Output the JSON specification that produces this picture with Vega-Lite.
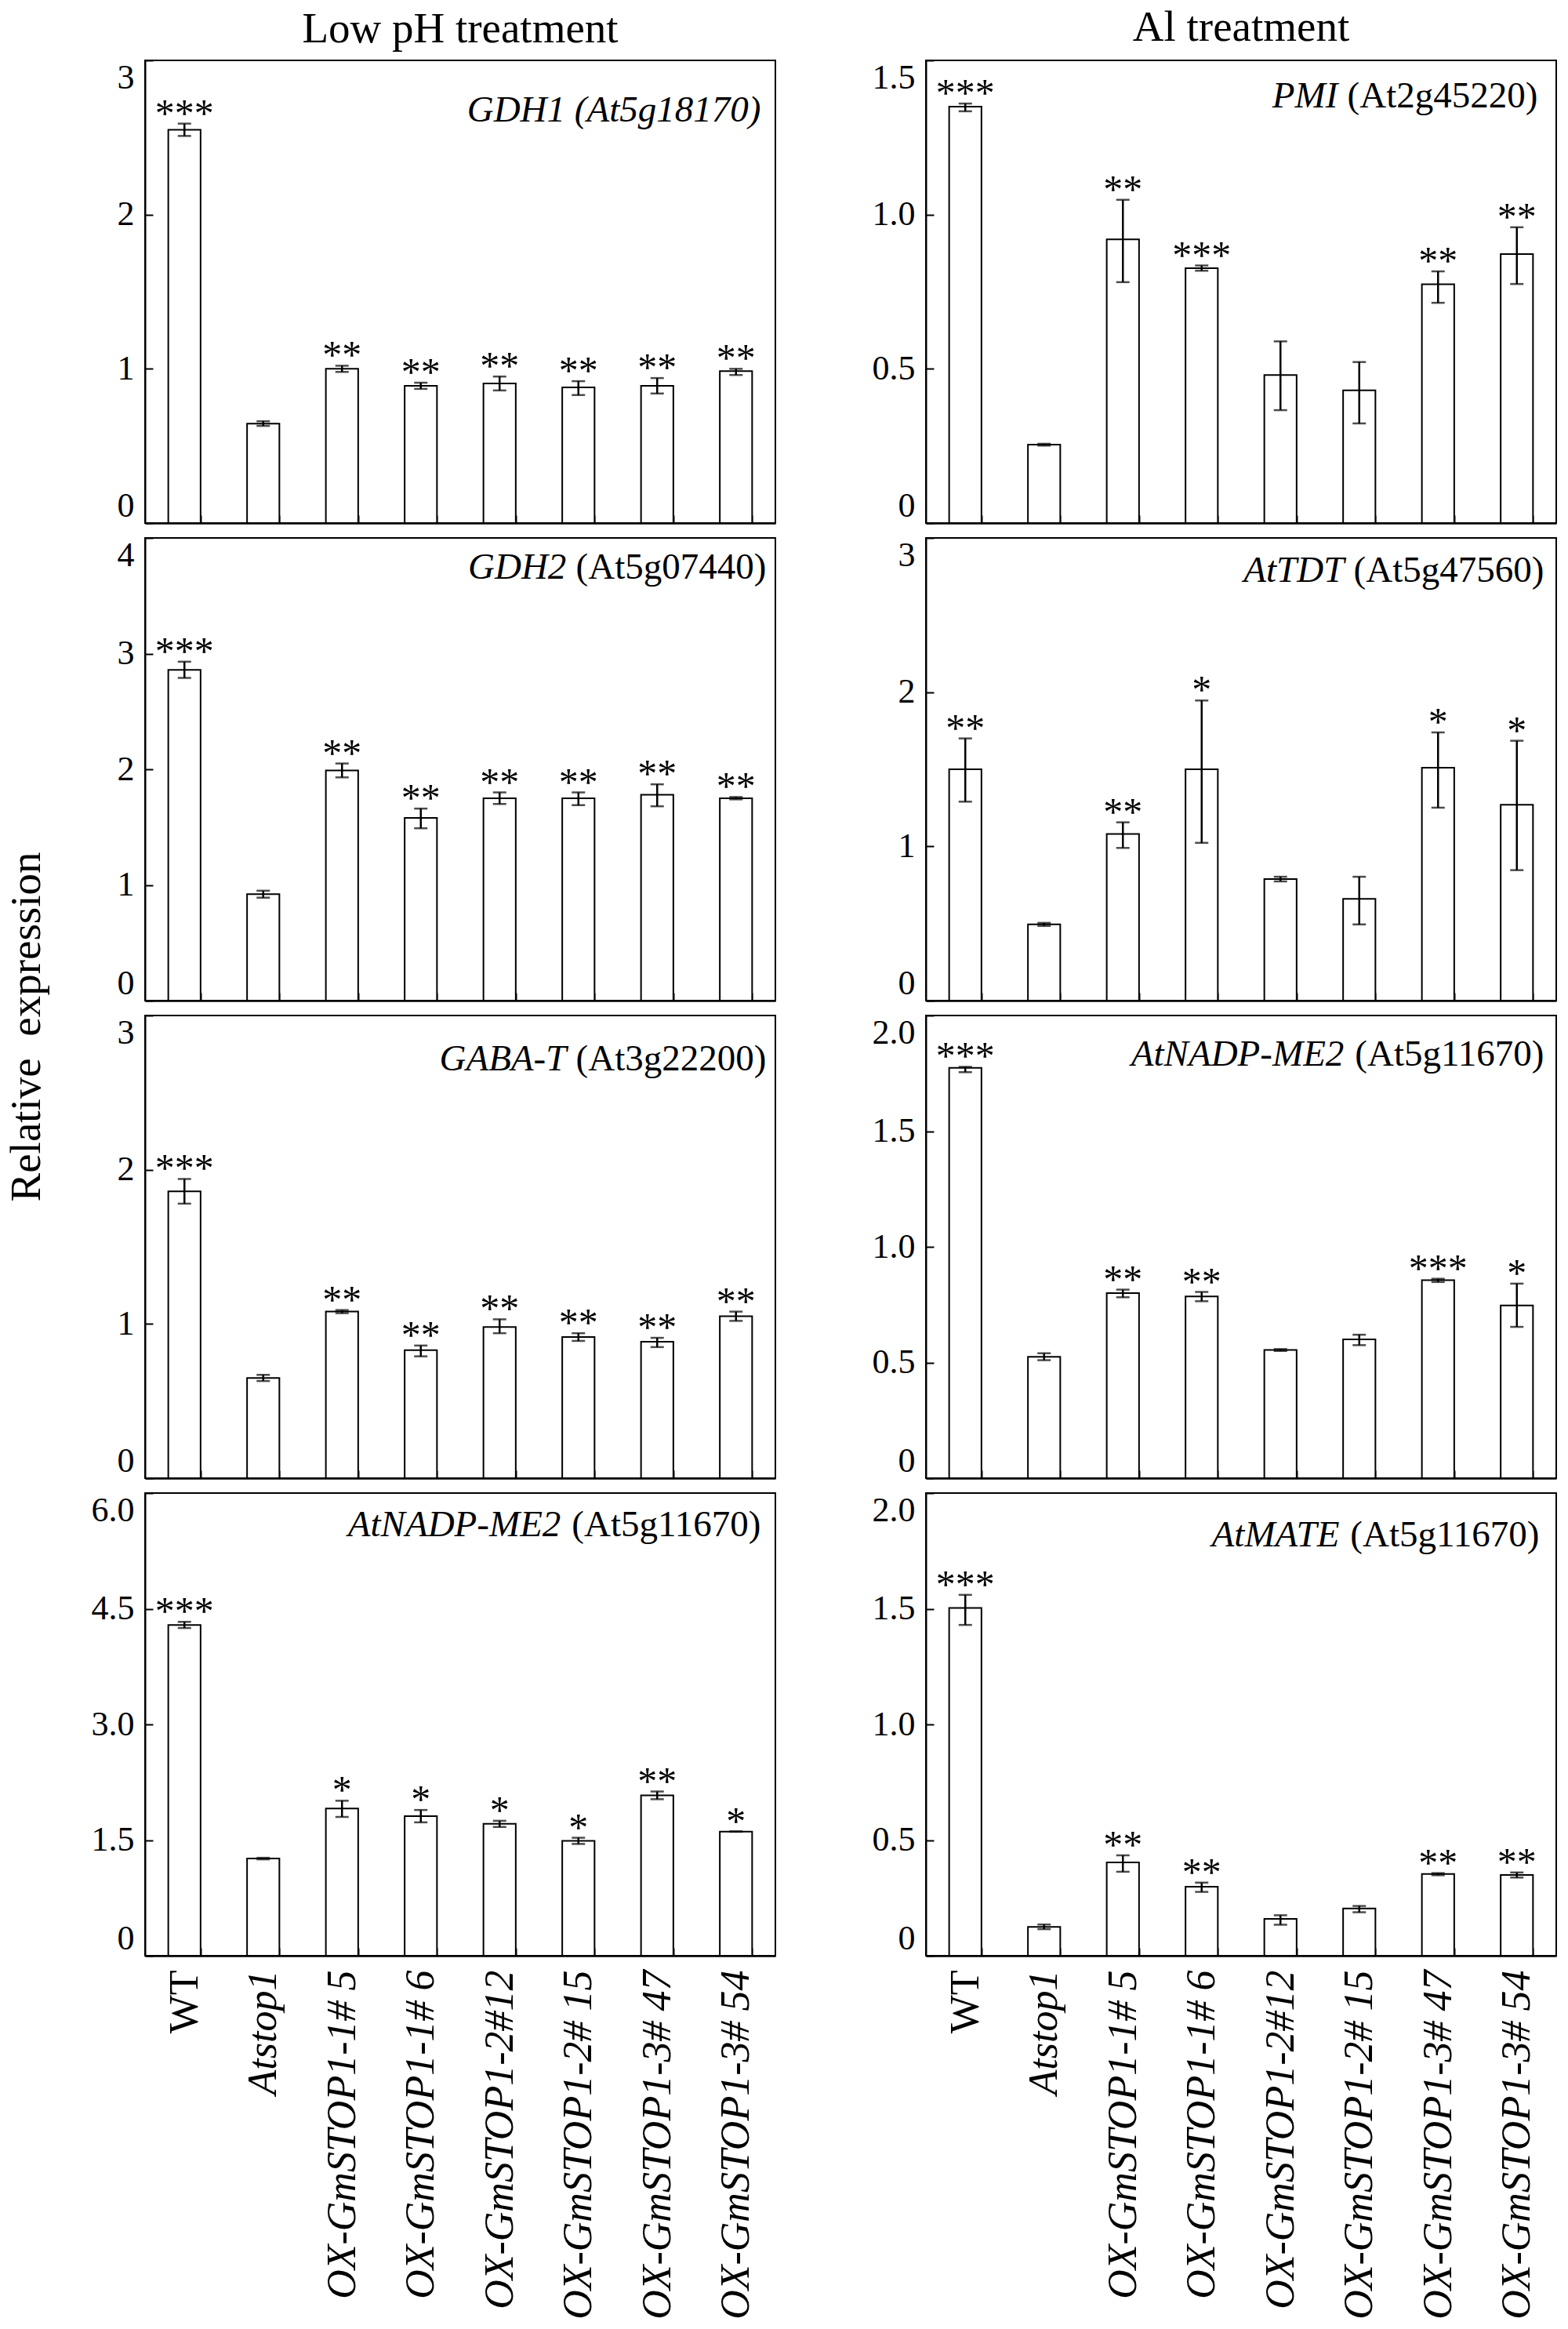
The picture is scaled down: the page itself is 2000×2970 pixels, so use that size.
{
"$schema": "https://vega.github.io/schema/vega-lite/v6.json",
"background": "white",
"padding": {"left": 6, "top": 7, "right": 10, "bottom": 0},
"datasets": {
"d": [
{"p":"L1","g":"WT","v":2.55,"lo":2.51,"hi":2.59,"s":"***"},
{"p":"L1","g":"Atstop1","v":0.645,"lo":0.63,"hi":0.66,"s":""},
{"p":"L1","g":"OX-GmSTOP1-1# 5","v":1.0,"lo":0.98,"hi":1.02,"s":"**"},
{"p":"L1","g":"OX-GmSTOP1-1# 6","v":0.89,"lo":0.87,"hi":0.91,"s":"**"},
{"p":"L1","g":"OX-GmSTOP1-2#12","v":0.905,"lo":0.86,"hi":0.95,"s":"**"},
{"p":"L1","g":"OX-GmSTOP1-2# 15","v":0.88,"lo":0.83,"hi":0.92,"s":"**"},
{"p":"L1","g":"OX-GmSTOP1-3# 47","v":0.89,"lo":0.84,"hi":0.94,"s":"**"},
{"p":"L1","g":"OX-GmSTOP1-3# 54","v":0.985,"lo":0.96,"hi":1.0,"s":"**"},
{"p":"L2","g":"WT","v":2.86,"lo":2.79,"hi":2.93,"s":"***"},
{"p":"L2","g":"Atstop1","v":0.92,"lo":0.89,"hi":0.95,"s":""},
{"p":"L2","g":"OX-GmSTOP1-1# 5","v":1.99,"lo":1.93,"hi":2.05,"s":"**"},
{"p":"L2","g":"OX-GmSTOP1-1# 6","v":1.58,"lo":1.49,"hi":1.66,"s":"**"},
{"p":"L2","g":"OX-GmSTOP1-2#12","v":1.75,"lo":1.7,"hi":1.8,"s":"**"},
{"p":"L2","g":"OX-GmSTOP1-2# 15","v":1.75,"lo":1.69,"hi":1.8,"s":"**"},
{"p":"L2","g":"OX-GmSTOP1-3# 47","v":1.78,"lo":1.68,"hi":1.87,"s":"**"},
{"p":"L2","g":"OX-GmSTOP1-3# 54","v":1.75,"lo":1.74,"hi":1.76,"s":"**"},
{"p":"L3","g":"WT","v":1.86,"lo":1.78,"hi":1.94,"s":"***"},
{"p":"L3","g":"Atstop1","v":0.65,"lo":0.63,"hi":0.67,"s":""},
{"p":"L3","g":"OX-GmSTOP1-1# 5","v":1.08,"lo":1.07,"hi":1.09,"s":"**"},
{"p":"L3","g":"OX-GmSTOP1-1# 6","v":0.83,"lo":0.79,"hi":0.86,"s":"**"},
{"p":"L3","g":"OX-GmSTOP1-2#12","v":0.98,"lo":0.94,"hi":1.03,"s":"**"},
{"p":"L3","g":"OX-GmSTOP1-2# 15","v":0.915,"lo":0.89,"hi":0.94,"s":"**"},
{"p":"L3","g":"OX-GmSTOP1-3# 47","v":0.885,"lo":0.85,"hi":0.91,"s":"**"},
{"p":"L3","g":"OX-GmSTOP1-3# 54","v":1.05,"lo":1.02,"hi":1.08,"s":"**"},
{"p":"L4","g":"WT","v":4.29,"lo":4.25,"hi":4.33,"s":"***"},
{"p":"L4","g":"Atstop1","v":1.26,"lo":1.25,"hi":1.27,"s":""},
{"p":"L4","g":"OX-GmSTOP1-1# 5","v":1.91,"lo":1.8,"hi":2.01,"s":"*"},
{"p":"L4","g":"OX-GmSTOP1-1# 6","v":1.81,"lo":1.73,"hi":1.89,"s":"*"},
{"p":"L4","g":"OX-GmSTOP1-2#12","v":1.71,"lo":1.67,"hi":1.75,"s":"*"},
{"p":"L4","g":"OX-GmSTOP1-2# 15","v":1.49,"lo":1.45,"hi":1.53,"s":"*"},
{"p":"L4","g":"OX-GmSTOP1-3# 47","v":2.08,"lo":2.03,"hi":2.13,"s":"**"},
{"p":"L4","g":"OX-GmSTOP1-3# 54","v":1.61,"lo":1.61,"hi":1.61,"s":"*"},
{"p":"R1","g":"WT","v":1.35,"lo":1.335,"hi":1.36,"s":"***"},
{"p":"R1","g":"Atstop1","v":0.254,"lo":0.251,"hi":0.257,"s":""},
{"p":"R1","g":"OX-GmSTOP1-1# 5","v":0.92,"lo":0.781,"hi":1.048,"s":"**"},
{"p":"R1","g":"OX-GmSTOP1-1# 6","v":0.826,"lo":0.818,"hi":0.835,"s":"***"},
{"p":"R1","g":"OX-GmSTOP1-2#12","v":0.48,"lo":0.366,"hi":0.589,"s":""},
{"p":"R1","g":"OX-GmSTOP1-2# 15","v":0.43,"lo":0.323,"hi":0.522,"s":""},
{"p":"R1","g":"OX-GmSTOP1-3# 47","v":0.774,"lo":0.714,"hi":0.816,"s":"**"},
{"p":"R1","g":"OX-GmSTOP1-3# 54","v":0.872,"lo":0.775,"hi":0.959,"s":"**"},
{"p":"R2","g":"WT","v":1.5,"lo":1.29,"hi":1.7,"s":"**"},
{"p":"R2","g":"Atstop1","v":0.494,"lo":0.484,"hi":0.504,"s":""},
{"p":"R2","g":"OX-GmSTOP1-1# 5","v":1.08,"lo":0.99,"hi":1.156,"s":"**"},
{"p":"R2","g":"OX-GmSTOP1-1# 6","v":1.5,"lo":1.023,"hi":1.946,"s":"*"},
{"p":"R2","g":"OX-GmSTOP1-2#12","v":0.788,"lo":0.773,"hi":0.803,"s":""},
{"p":"R2","g":"OX-GmSTOP1-2# 15","v":0.66,"lo":0.494,"hi":0.803,"s":""},
{"p":"R2","g":"OX-GmSTOP1-3# 47","v":1.51,"lo":1.251,"hi":1.739,"s":"*"},
{"p":"R2","g":"OX-GmSTOP1-3# 54","v":1.27,"lo":0.846,"hi":1.685,"s":"*"},
{"p":"R3","g":"WT","v":1.774,"lo":1.755,"hi":1.778,"s":"***"},
{"p":"R3","g":"Atstop1","v":0.525,"lo":0.51,"hi":0.54,"s":""},
{"p":"R3","g":"OX-GmSTOP1-1# 5","v":0.8,"lo":0.782,"hi":0.815,"s":"**"},
{"p":"R3","g":"OX-GmSTOP1-1# 6","v":0.786,"lo":0.765,"hi":0.805,"s":"**"},
{"p":"R3","g":"OX-GmSTOP1-2#12","v":0.554,"lo":0.55,"hi":0.558,"s":""},
{"p":"R3","g":"OX-GmSTOP1-2# 15","v":0.6,"lo":0.575,"hi":0.62,"s":""},
{"p":"R3","g":"OX-GmSTOP1-3# 47","v":0.856,"lo":0.848,"hi":0.862,"s":"***"},
{"p":"R3","g":"OX-GmSTOP1-3# 54","v":0.747,"lo":0.654,"hi":0.841,"s":"*"},
{"p":"R4","g":"WT","v":1.503,"lo":1.43,"hi":1.56,"s":"***"},
{"p":"R4","g":"Atstop1","v":0.125,"lo":0.115,"hi":0.135,"s":""},
{"p":"R4","g":"OX-GmSTOP1-1# 5","v":0.403,"lo":0.363,"hi":0.434,"s":"**"},
{"p":"R4","g":"OX-GmSTOP1-1# 6","v":0.298,"lo":0.276,"hi":0.316,"s":"**"},
{"p":"R4","g":"OX-GmSTOP1-2#12","v":0.159,"lo":0.134,"hi":0.175,"s":""},
{"p":"R4","g":"OX-GmSTOP1-2# 15","v":0.204,"lo":0.188,"hi":0.215,"s":""},
{"p":"R4","g":"OX-GmSTOP1-3# 47","v":0.353,"lo":0.348,"hi":0.357,"s":"**"},
{"p":"R4","g":"OX-GmSTOP1-3# 54","v":0.349,"lo":0.338,"hi":0.36,"s":"**"}
],
"t": [
{"p":"L1","gene":"GDH1 (At5g18170)","locus":""},
{"p":"L2","gene":"GDH2","locus":"(At5g07440)"},
{"p":"L3","gene":"GABA-T","locus":"(At3g22200)"},
{"p":"L4","gene":"AtNADP-ME2","locus":"(At5g11670)"},
{"p":"R1","gene":"PMI","locus":"(At2g45220)"},
{"p":"R2","gene":"AtTDT","locus":"(At5g47560)"},
{"p":"R3","gene":"AtNADP-ME2","locus":"(At5g11670)"},
{"p":"R4","gene":"AtMATE","locus":"(At5g11670)"}
]
},
"hconcat": [
{
"spacing": 15,
"resolve": {"scale": {"x": "independent", "y": "independent"}},
"vconcat": [
{
"width": 804, "height": 590,
"title": {"text": "Low pH treatment", "fontSize": 55, "offset": 10, "anchor": "middle", "frame": "group"},
"data": {"name": "d"},
"encoding": {"x": {"field": "g", "type": "nominal", "scale": {"domain": ["WT","Atstop1","OX-GmSTOP1-1# 5","OX-GmSTOP1-1# 6","OX-GmSTOP1-2#12","OX-GmSTOP1-2# 15","OX-GmSTOP1-3# 47","OX-GmSTOP1-3# 54"], "paddingInner": 0.59, "paddingOuter": 0.295}, "axis": {"title": null, "labels": false, "tickBand": "extent", "tickSize": -10, "tickWidth": 2, "domainWidth": 2.5}}},
"layer": [
{"transform": [{"filter": "datum.p === 'L1'"}], "mark": {"type": "bar", "fill": "white", "stroke": "black", "strokeWidth": 2}, "encoding": {"y": {"field": "v", "type": "quantitative", "scale": {"domain": [0, 3], "nice": false}, "axis": {"title": null, "values": [0,1,2,3], "format": "d", "tickSize": -10, "tickWidth": 2, "labelPadding": 24, "labelFlush": true, "domainWidth": 2, "labelFontSize": 44}}}},
{"transform": [{"filter": "datum.p === 'L1'"}], "mark": {"type": "errorbar", "color": "black", "thickness": 2.5, "ticks": {"size": 17}}, "encoding": {"y": {"field": "lo", "type": "quantitative", "title": null}, "y2": {"field": "hi"}}},
{"transform": [{"filter": "datum.p === 'L1'"}], "mark": {"type": "text", "fontSize": 50, "baseline": "alphabetic", "dy": 3}, "encoding": {"y": {"field": "hi", "type": "quantitative", "title": null}, "text": {"field": "s"}}},
{"data": {"name": "t"}, "transform": [{"filter": "datum.p === 'L1'"}], "mark": {"type": "text", "align": "right", "baseline": "middle", "fontSize": 47, "fontStyle": "italic", "dx": 11, "dy": 64}, "encoding": {"x": {"datum": "OX-GmSTOP1-3# 54", "bandPosition": 1}, "y": {"datum": 3}, "text": {"field": "gene"}}}
]
},
{
"title": {"text": "Relative\u00a0 expression", "orient": "left", "anchor": "middle", "fontSize": 55, "offset": 85, "dx": -24},
"spacing": 15,
"resolve": {"scale": {"x": "independent", "y": "independent"}},
"vconcat": [
{
"width": 804, "height": 590,
"data": {"name": "d"},
"encoding": {"x": {"field": "g", "type": "nominal", "scale": {"domain": ["WT","Atstop1","OX-GmSTOP1-1# 5","OX-GmSTOP1-1# 6","OX-GmSTOP1-2#12","OX-GmSTOP1-2# 15","OX-GmSTOP1-3# 47","OX-GmSTOP1-3# 54"], "paddingInner": 0.59, "paddingOuter": 0.295}, "axis": {"title": null, "labels": false, "tickBand": "extent", "tickSize": -10, "tickWidth": 2, "domainWidth": 2.5}}},
"layer": [
{"transform": [{"filter": "datum.p === 'L2'"}], "mark": {"type": "bar", "fill": "white", "stroke": "black", "strokeWidth": 2}, "encoding": {"y": {"field": "v", "type": "quantitative", "scale": {"domain": [0, 4], "nice": false}, "axis": {"title": null, "values": [0,1,2,3,4], "format": "d", "tickSize": -10, "tickWidth": 2, "labelPadding": 24, "labelFlush": true, "domainWidth": 2, "labelFontSize": 44}}}},
{"transform": [{"filter": "datum.p === 'L2'"}], "mark": {"type": "errorbar", "color": "black", "thickness": 2.5, "ticks": {"size": 17}}, "encoding": {"y": {"field": "lo", "type": "quantitative", "title": null}, "y2": {"field": "hi"}}},
{"transform": [{"filter": "datum.p === 'L2'"}], "mark": {"type": "text", "fontSize": 50, "baseline": "alphabetic", "dy": 3}, "encoding": {"y": {"field": "hi", "type": "quantitative", "title": null}, "text": {"field": "s"}}},
{"data": {"name": "t"}, "transform": [{"filter": "datum.p === 'L2'"}], "mark": {"type": "text", "align": "right", "baseline": "middle", "fontSize": 47, "fontStyle": "italic", "dx": -237, "dy": 38}, "encoding": {"x": {"datum": "OX-GmSTOP1-3# 54", "bandPosition": 1}, "y": {"datum": 4}, "text": {"field": "gene"}}},
{"data": {"name": "t"}, "transform": [{"filter": "datum.p === 'L2'"}], "mark": {"type": "text", "align": "right", "baseline": "middle", "fontSize": 47, "dx": 18, "dy": 38}, "encoding": {"x": {"datum": "OX-GmSTOP1-3# 54", "bandPosition": 1}, "y": {"datum": 4}, "text": {"field": "locus"}}}
]
},
{
"width": 804, "height": 590,
"data": {"name": "d"},
"encoding": {"x": {"field": "g", "type": "nominal", "scale": {"domain": ["WT","Atstop1","OX-GmSTOP1-1# 5","OX-GmSTOP1-1# 6","OX-GmSTOP1-2#12","OX-GmSTOP1-2# 15","OX-GmSTOP1-3# 47","OX-GmSTOP1-3# 54"], "paddingInner": 0.59, "paddingOuter": 0.295}, "axis": {"title": null, "labels": false, "tickBand": "extent", "tickSize": -10, "tickWidth": 2, "domainWidth": 2.5}}},
"layer": [
{"transform": [{"filter": "datum.p === 'L3'"}], "mark": {"type": "bar", "fill": "white", "stroke": "black", "strokeWidth": 2}, "encoding": {"y": {"field": "v", "type": "quantitative", "scale": {"domain": [0, 3], "nice": false}, "axis": {"title": null, "values": [0,1,2,3], "format": "d", "tickSize": -10, "tickWidth": 2, "labelPadding": 24, "labelFlush": true, "domainWidth": 2, "labelFontSize": 44}}}},
{"transform": [{"filter": "datum.p === 'L3'"}], "mark": {"type": "errorbar", "color": "black", "thickness": 2.5, "ticks": {"size": 17}}, "encoding": {"y": {"field": "lo", "type": "quantitative", "title": null}, "y2": {"field": "hi"}}},
{"transform": [{"filter": "datum.p === 'L3'"}], "mark": {"type": "text", "fontSize": 50, "baseline": "alphabetic", "dy": 3}, "encoding": {"y": {"field": "hi", "type": "quantitative", "title": null}, "text": {"field": "s"}}},
{"data": {"name": "t"}, "transform": [{"filter": "datum.p === 'L3'"}], "mark": {"type": "text", "align": "right", "baseline": "middle", "fontSize": 47, "fontStyle": "italic", "dx": -237, "dy": 56}, "encoding": {"x": {"datum": "OX-GmSTOP1-3# 54", "bandPosition": 1}, "y": {"datum": 3}, "text": {"field": "gene"}}},
{"data": {"name": "t"}, "transform": [{"filter": "datum.p === 'L3'"}], "mark": {"type": "text", "align": "right", "baseline": "middle", "fontSize": 47, "dx": 18, "dy": 56}, "encoding": {"x": {"datum": "OX-GmSTOP1-3# 54", "bandPosition": 1}, "y": {"datum": 3}, "text": {"field": "locus"}}}
]
}
]
},
{
"width": 804, "height": 590,
"data": {"name": "d"},
"encoding": {"x": {"field": "g", "type": "nominal", "scale": {"domain": ["WT","Atstop1","OX-GmSTOP1-1# 5","OX-GmSTOP1-1# 6","OX-GmSTOP1-2#12","OX-GmSTOP1-2# 15","OX-GmSTOP1-3# 47","OX-GmSTOP1-3# 54"], "paddingInner": 0.59, "paddingOuter": 0.295}, "axis": {"title": null, "labelAngle": 270, "labelFontSize": 52, "labelPadding": 28, "labelLimit": 0, "labelFontStyle": {"condition": {"test": "datum.value === 'WT'", "value": "normal"}, "value": "italic"}, "tickBand": "extent", "tickSize": -10, "tickWidth": 2, "domainWidth": 2.5}}},
"layer": [
{"transform": [{"filter": "datum.p === 'L4'"}], "mark": {"type": "bar", "fill": "white", "stroke": "black", "strokeWidth": 2}, "encoding": {"y": {"field": "v", "type": "quantitative", "scale": {"domain": [0, 6], "nice": false}, "axis": {"title": null, "values": [0,1.5,3,4.5,6], "labelExpr": "datum.value === 0 ? '0' : format(datum.value, '.1f')", "tickSize": -10, "tickWidth": 2, "labelPadding": 24, "labelFlush": true, "domainWidth": 2, "labelFontSize": 44}}}},
{"transform": [{"filter": "datum.p === 'L4'"}], "mark": {"type": "errorbar", "color": "black", "thickness": 2.5, "ticks": {"size": 17}}, "encoding": {"y": {"field": "lo", "type": "quantitative", "title": null}, "y2": {"field": "hi"}}},
{"transform": [{"filter": "datum.p === 'L4'"}], "mark": {"type": "text", "fontSize": 50, "baseline": "alphabetic", "dy": 3}, "encoding": {"y": {"field": "hi", "type": "quantitative", "title": null}, "text": {"field": "s"}}},
{"data": {"name": "t"}, "transform": [{"filter": "datum.p === 'L4'"}], "mark": {"type": "text", "align": "right", "baseline": "middle", "fontSize": 47, "fontStyle": "italic", "dx": -244, "dy": 41}, "encoding": {"x": {"datum": "OX-GmSTOP1-3# 54", "bandPosition": 1}, "y": {"datum": 6}, "text": {"field": "gene"}}},
{"data": {"name": "t"}, "transform": [{"filter": "datum.p === 'L4'"}], "mark": {"type": "text", "align": "right", "baseline": "middle", "fontSize": 47, "dx": 11, "dy": 41}, "encoding": {"x": {"datum": "OX-GmSTOP1-3# 54", "bandPosition": 1}, "y": {"datum": 6}, "text": {"field": "locus"}}}
]
}
]
},
{
"spacing": 15,
"resolve": {"scale": {"x": "independent", "y": "independent"}},
"vconcat": [
{
"width": 804, "height": 590,
"title": {"text": "Al treatment", "fontSize": 55, "offset": 12, "anchor": "middle", "frame": "group"},
"data": {"name": "d"},
"encoding": {"x": {"field": "g", "type": "nominal", "scale": {"domain": ["WT","Atstop1","OX-GmSTOP1-1# 5","OX-GmSTOP1-1# 6","OX-GmSTOP1-2#12","OX-GmSTOP1-2# 15","OX-GmSTOP1-3# 47","OX-GmSTOP1-3# 54"], "paddingInner": 0.59, "paddingOuter": 0.295}, "axis": {"title": null, "labels": false, "tickBand": "extent", "tickSize": -10, "tickWidth": 2, "domainWidth": 2.5}}},
"layer": [
{"transform": [{"filter": "datum.p === 'R1'"}], "mark": {"type": "bar", "fill": "white", "stroke": "black", "strokeWidth": 2}, "encoding": {"y": {"field": "v", "type": "quantitative", "scale": {"domain": [0, 1.5], "nice": false}, "axis": {"title": null, "values": [0,0.5,1,1.5], "labelExpr": "datum.value === 0 ? '0' : format(datum.value, '.1f')", "tickSize": -10, "tickWidth": 2, "labelPadding": 24, "labelFlush": true, "domainWidth": 2, "labelFontSize": 44}}}},
{"transform": [{"filter": "datum.p === 'R1'"}], "mark": {"type": "errorbar", "color": "black", "thickness": 2.5, "ticks": {"size": 17}}, "encoding": {"y": {"field": "lo", "type": "quantitative", "title": null}, "y2": {"field": "hi"}}},
{"transform": [{"filter": "datum.p === 'R1'"}], "mark": {"type": "text", "fontSize": 50, "baseline": "alphabetic", "dy": 3}, "encoding": {"y": {"field": "hi", "type": "quantitative", "title": null}, "text": {"field": "s"}}},
{"data": {"name": "t"}, "transform": [{"filter": "datum.p === 'R1'"}], "mark": {"type": "text", "align": "right", "baseline": "middle", "fontSize": 47, "fontStyle": "italic", "dx": -249, "dy": 46}, "encoding": {"x": {"datum": "OX-GmSTOP1-3# 54", "bandPosition": 1}, "y": {"datum": 1.5}, "text": {"field": "gene"}}},
{"data": {"name": "t"}, "transform": [{"filter": "datum.p === 'R1'"}], "mark": {"type": "text", "align": "right", "baseline": "middle", "fontSize": 47, "dx": 6, "dy": 46}, "encoding": {"x": {"datum": "OX-GmSTOP1-3# 54", "bandPosition": 1}, "y": {"datum": 1.5}, "text": {"field": "locus"}}}
]
},
{
"width": 804, "height": 590,
"data": {"name": "d"},
"encoding": {"x": {"field": "g", "type": "nominal", "scale": {"domain": ["WT","Atstop1","OX-GmSTOP1-1# 5","OX-GmSTOP1-1# 6","OX-GmSTOP1-2#12","OX-GmSTOP1-2# 15","OX-GmSTOP1-3# 47","OX-GmSTOP1-3# 54"], "paddingInner": 0.59, "paddingOuter": 0.295}, "axis": {"title": null, "labels": false, "tickBand": "extent", "tickSize": -10, "tickWidth": 2, "domainWidth": 2.5}}},
"layer": [
{"transform": [{"filter": "datum.p === 'R2'"}], "mark": {"type": "bar", "fill": "white", "stroke": "black", "strokeWidth": 2}, "encoding": {"y": {"field": "v", "type": "quantitative", "scale": {"domain": [0, 3], "nice": false}, "axis": {"title": null, "values": [0,1,2,3], "format": "d", "tickSize": -10, "tickWidth": 2, "labelPadding": 24, "labelFlush": true, "domainWidth": 2, "labelFontSize": 44}}}},
{"transform": [{"filter": "datum.p === 'R2'"}], "mark": {"type": "errorbar", "color": "black", "thickness": 2.5, "ticks": {"size": 17}}, "encoding": {"y": {"field": "lo", "type": "quantitative", "title": null}, "y2": {"field": "hi"}}},
{"transform": [{"filter": "datum.p === 'R2'"}], "mark": {"type": "text", "fontSize": 50, "baseline": "alphabetic", "dy": 3}, "encoding": {"y": {"field": "hi", "type": "quantitative", "title": null}, "text": {"field": "s"}}},
{"data": {"name": "t"}, "transform": [{"filter": "datum.p === 'R2'"}], "mark": {"type": "text", "align": "right", "baseline": "middle", "fontSize": 47, "fontStyle": "italic", "dx": -241, "dy": 42}, "encoding": {"x": {"datum": "OX-GmSTOP1-3# 54", "bandPosition": 1}, "y": {"datum": 3}, "text": {"field": "gene"}}},
{"data": {"name": "t"}, "transform": [{"filter": "datum.p === 'R2'"}], "mark": {"type": "text", "align": "right", "baseline": "middle", "fontSize": 47, "dx": 14, "dy": 42}, "encoding": {"x": {"datum": "OX-GmSTOP1-3# 54", "bandPosition": 1}, "y": {"datum": 3}, "text": {"field": "locus"}}}
]
},
{
"width": 804, "height": 590,
"data": {"name": "d"},
"encoding": {"x": {"field": "g", "type": "nominal", "scale": {"domain": ["WT","Atstop1","OX-GmSTOP1-1# 5","OX-GmSTOP1-1# 6","OX-GmSTOP1-2#12","OX-GmSTOP1-2# 15","OX-GmSTOP1-3# 47","OX-GmSTOP1-3# 54"], "paddingInner": 0.59, "paddingOuter": 0.295}, "axis": {"title": null, "labels": false, "tickBand": "extent", "tickSize": -10, "tickWidth": 2, "domainWidth": 2.5}}},
"layer": [
{"transform": [{"filter": "datum.p === 'R3'"}], "mark": {"type": "bar", "fill": "white", "stroke": "black", "strokeWidth": 2}, "encoding": {"y": {"field": "v", "type": "quantitative", "scale": {"domain": [0, 2], "nice": false}, "axis": {"title": null, "values": [0,0.5,1,1.5,2], "labelExpr": "datum.value === 0 ? '0' : format(datum.value, '.1f')", "tickSize": -10, "tickWidth": 2, "labelPadding": 24, "labelFlush": true, "domainWidth": 2, "labelFontSize": 44}}}},
{"transform": [{"filter": "datum.p === 'R3'"}], "mark": {"type": "errorbar", "color": "black", "thickness": 2.5, "ticks": {"size": 17}}, "encoding": {"y": {"field": "lo", "type": "quantitative", "title": null}, "y2": {"field": "hi"}}},
{"transform": [{"filter": "datum.p === 'R3'"}], "mark": {"type": "text", "fontSize": 50, "baseline": "alphabetic", "dy": 3}, "encoding": {"y": {"field": "hi", "type": "quantitative", "title": null}, "text": {"field": "s"}}},
{"data": {"name": "t"}, "transform": [{"filter": "datum.p === 'R3'"}], "mark": {"type": "text", "align": "right", "baseline": "middle", "fontSize": 47, "fontStyle": "italic", "dx": -241, "dy": 50}, "encoding": {"x": {"datum": "OX-GmSTOP1-3# 54", "bandPosition": 1}, "y": {"datum": 2}, "text": {"field": "gene"}}},
{"data": {"name": "t"}, "transform": [{"filter": "datum.p === 'R3'"}], "mark": {"type": "text", "align": "right", "baseline": "middle", "fontSize": 47, "dx": 14, "dy": 50}, "encoding": {"x": {"datum": "OX-GmSTOP1-3# 54", "bandPosition": 1}, "y": {"datum": 2}, "text": {"field": "locus"}}}
]
},
{
"width": 804, "height": 590,
"data": {"name": "d"},
"encoding": {"x": {"field": "g", "type": "nominal", "scale": {"domain": ["WT","Atstop1","OX-GmSTOP1-1# 5","OX-GmSTOP1-1# 6","OX-GmSTOP1-2#12","OX-GmSTOP1-2# 15","OX-GmSTOP1-3# 47","OX-GmSTOP1-3# 54"], "paddingInner": 0.59, "paddingOuter": 0.295}, "axis": {"title": null, "labelAngle": 270, "labelFontSize": 52, "labelPadding": 28, "labelLimit": 0, "labelFontStyle": {"condition": {"test": "datum.value === 'WT'", "value": "normal"}, "value": "italic"}, "tickBand": "extent", "tickSize": -10, "tickWidth": 2, "domainWidth": 2.5}}},
"layer": [
{"transform": [{"filter": "datum.p === 'R4'"}], "mark": {"type": "bar", "fill": "white", "stroke": "black", "strokeWidth": 2}, "encoding": {"y": {"field": "v", "type": "quantitative", "scale": {"domain": [0, 2], "nice": false}, "axis": {"title": null, "values": [0,0.5,1,1.5,2], "labelExpr": "datum.value === 0 ? '0' : format(datum.value, '.1f')", "tickSize": -10, "tickWidth": 2, "labelPadding": 24, "labelFlush": true, "domainWidth": 2, "labelFontSize": 44}}}},
{"transform": [{"filter": "datum.p === 'R4'"}], "mark": {"type": "errorbar", "color": "black", "thickness": 2.5, "ticks": {"size": 17}}, "encoding": {"y": {"field": "lo", "type": "quantitative", "title": null}, "y2": {"field": "hi"}}},
{"transform": [{"filter": "datum.p === 'R4'"}], "mark": {"type": "text", "fontSize": 50, "baseline": "alphabetic", "dy": 3}, "encoding": {"y": {"field": "hi", "type": "quantitative", "title": null}, "text": {"field": "s"}}},
{"data": {"name": "t"}, "transform": [{"filter": "datum.p === 'R4'"}], "mark": {"type": "text", "align": "right", "baseline": "middle", "fontSize": 47, "fontStyle": "italic", "dx": -247, "dy": 54}, "encoding": {"x": {"datum": "OX-GmSTOP1-3# 54", "bandPosition": 1}, "y": {"datum": 2}, "text": {"field": "gene"}}},
{"data": {"name": "t"}, "transform": [{"filter": "datum.p === 'R4'"}], "mark": {"type": "text", "align": "right", "baseline": "middle", "fontSize": 47, "dx": 8, "dy": 54}, "encoding": {"x": {"datum": "OX-GmSTOP1-3# 54", "bandPosition": 1}, "y": {"datum": 2}, "text": {"field": "locus"}}}
]
}
]
}
],
"spacing": 121,
"resolve": {"scale": {"x": "independent", "y": "independent"}},
"config": {
"font": "Liberation Serif",
"view": {"stroke": "black", "strokeWidth": 2},
"axis": {"labelFont": "Liberation Serif", "labelColor": "black", "domainColor": "black", "tickColor": "black", "grid": false},
"text": {"font": "Liberation Serif", "color": "black"},
"title": {"font": "Liberation Serif", "color": "black", "fontWeight": "normal"}
}
}
